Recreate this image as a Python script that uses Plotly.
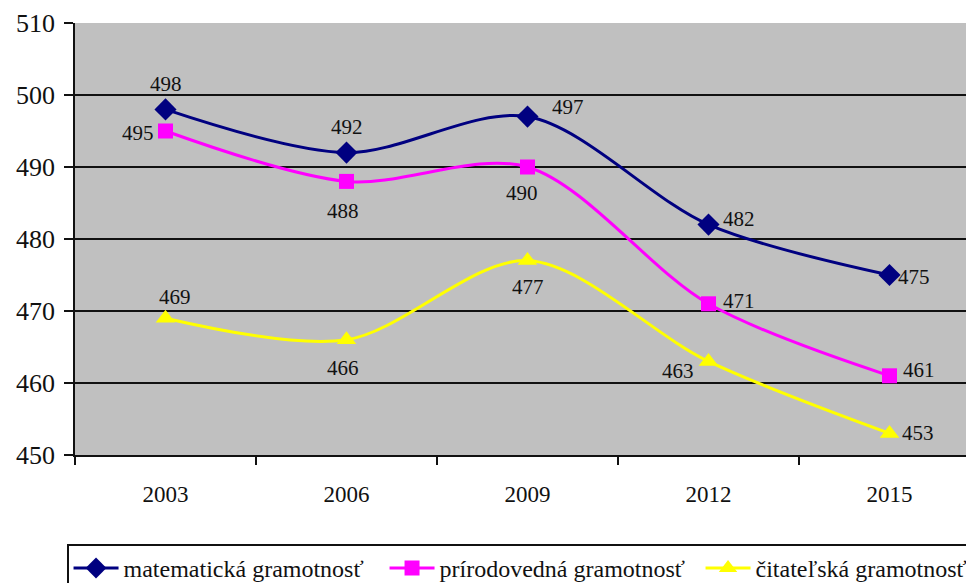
import plotly.graph_objects as go

years = ["2003", "2006", "2009", "2012", "2015"]
math_vals = [498, 492, 497, 482, 475]
sci_vals = [495, 488, 490, 471, 461]
read_vals = [469, 466, 477, 463, 453]
names = ["matematická gramotnosť", "prírodovedná gramotnosť", "čitateľská gramotnosť"]
ytick_vals = [450, 460, 470, 480, 490, 500, 510]

# label offsets (pixels) per point: (dx, dy)
math_off = [(0, 25), (0, 26), (40, 10), (30, 6), (24, -2)]
sci_off = [(-28, -2), (-4, -30), (-6, -26), (30, 3), (29, 6)]
read_off = [(9, 21), (-4, -28), (0, -26), (-31, -10), (28, 0)]

FONT = "'Times New Roman', 'Liberation Serif', Tinos, 'DejaVu Serif', serif"
xs = list(range(len(years)))

fig = go.Figure()
series = [
    (math_vals, names[0], "#000080", "diamond", 17, math_off),
    (sci_vals, names[1], "#FF00FF", "square", 15, sci_off),
    (read_vals, names[2], "#FFFF00", "triangle-up", 17, read_off),
]
for vals, name, col, sym, sz, offs in series:
    fig.add_trace(go.Scatter(
        x=xs, y=vals, name=name, mode="lines+markers",
        line=dict(color=col, width=3, shape="spline", smoothing=0.9),
        marker=dict(color=col, symbol=sym, size=sz),
        cliponaxis=False,
    ))
    for xv, yv, (dx, dy) in zip(xs, vals, offs):
        fig.add_annotation(
            x=xv, y=yv, text=str(yv), showarrow=False,
            xshift=dx, yshift=dy,
            font=dict(family=FONT, size=21, color="#111111"),
        )

fig.update_layout(
    width=974, height=583,
    margin=dict(l=67, r=2, t=15, b=136, autoexpand=False),
    paper_bgcolor="white", plot_bgcolor="#C0C0C0",
    font=dict(family=FONT, color="#111111"),
    showlegend=True,
    legend=dict(
        orientation="h", x=-0.0088, xanchor="left", y=-0.207, yanchor="top",
        font=dict(family=FONT, size=24, color="#111111"),
        bordercolor="#111111", borderwidth=1.5, bgcolor="white",
        entrywidth=256, entrywidthmode="pixels",
        itemwidth=45,
    ),
    xaxis=dict(
        range=[-0.5, 4.5], tickmode="array", tickvals=xs, ticktext=years,
        ticks="", showgrid=False, zeroline=False,
        showline=True, linecolor="#111111", linewidth=1.5,
        tickfont=dict(family=FONT, size=23, color="#111111"),
        ticklabelstandoff=18,
        minor=dict(tickmode="array", tickvals=[-0.5, 0.5, 1.5, 2.5, 3.5, 4.5],
                   ticks="outside", ticklen=8, tickcolor="#111111", tickwidth=1.5,
                   showgrid=False),
    ),
    yaxis=dict(
        range=[450, 510], tickmode="array", tickvals=ytick_vals,
        ticks="outside", ticklen=9, tickcolor="#111111", tickwidth=1.5,
        showgrid=True, gridcolor="#111111", gridwidth=1.5, zeroline=False,
        showline=True, linecolor="#111111", linewidth=1.5,
        tickfont=dict(family=FONT, size=26, color="#111111"),
        ticklabelstandoff=4,
    ),
)

fig.write_html("out.html")
